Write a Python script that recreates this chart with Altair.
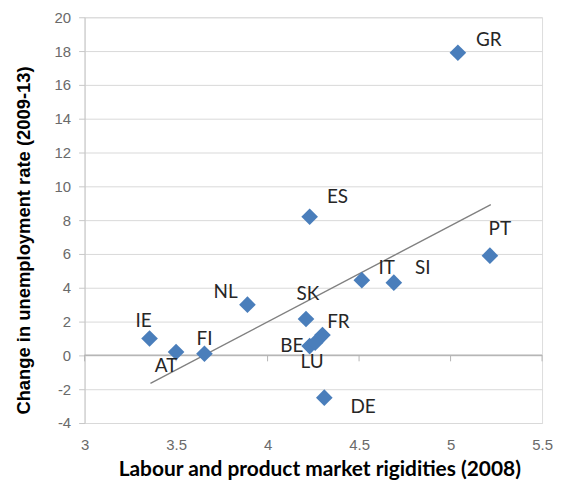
import altair as alt
import pandas as pd

# ---- data ----
countries = ["GR", "ES", "PT", "IT", "SI", "NL", "SK", "IE", "FR", "BE", "LU", "AT", "FI", "DE"]
rigidity = [5.04, 4.23, 5.215, 4.515, 4.69, 3.89, 4.21, 3.355, 4.30, 4.23, 4.26, 3.50, 3.655, 4.31]
unemp_change = [17.9, 8.2, 5.9, 4.45, 4.3, 3.0, 2.15, 1.0, 1.2, 0.55, 0.75, 0.2, 0.1, -2.5]

trend_x = [3.36, 5.22]
trend_y = [-1.66, 8.92]

x_ticks = [3, 3.5, 4, 4.5, 5, 5.5]
y_ticks = [-4, -2, 0, 2, 4, 6, 8, 10, 12, 14, 16, 18, 20]

# label offsets (pixels) – styling only
label_offsets = {
    "GR": (31, -13), "ES": (28, -20), "PT": (10, -27), "IT": (25, -12),
    "SI": (29, -15), "NL": (-22, -13), "SK": (2, -25), "IE": (-6, -18),
    "FR": (16, -13), "BE": (-18, 0), "LU": (-3, 19), "AT": (-10, 14),
    "FI": (0, -15), "DE": (39, 9),
}

pts = pd.DataFrame({"country": countries, "x": rigidity, "y": unemp_change})
trend = pd.DataFrame({"x": trend_x, "y": trend_y})
ticks = pd.DataFrame({"x": x_ticks})

xscale = alt.Scale(domain=[3, 5.5], nice=False, zero=False)
yscale = alt.Scale(domain=[-4, 20], nice=False, zero=False)

xaxis = alt.Axis(
    values=x_ticks, grid=False, domain=False, ticks=False,
    labelFont="Liberation Sans", labelFontSize=15, labelColor="#6a6a6a",
    labelPadding=15, labelFlush=False, labelOverlap=False,
    labelExpr="'' + datum.value",
    title="Labour and product market rigidities (2008)",
    titleFont="Lato", titleFontSize=21, titleFontWeight="bold", titleColor="#000000",
    titleX=236, titleY=47, titleAlign="center", titleBaseline="middle", titleAnchor=None,
)
yaxis = alt.Axis(
    values=y_ticks, grid=True, gridColor="#d9d9d9", gridWidth=1,
    domain=True, domainColor="#c8c8c8", ticks=True, tickColor="#c8c8c8", tickSize=6,
    labelFont="Liberation Sans", labelFontSize=15, labelColor="#6a6a6a",
    labelPadding=8, labelOverlap=False,
    labelExpr="'' + datum.value",
    title="Change in unemployment rate (2009-13)",
    titleFont="Liberation Sans", titleFontSize=18.5, titleFontWeight="bold", titleColor="#000000",
    titleX=-61, titleY=224, titleAlign="center", titleBaseline="middle", titleAngle=-90,
)

X = lambda: alt.X("x:Q", scale=xscale, axis=xaxis)
Y = lambda: alt.Y("y:Q", scale=yscale, axis=yaxis)

base = alt.Chart(pts)

points = base.mark_point(shape="diamond", filled=True, size=280, color="#4a7ebb", opacity=1).encode(
    x=X(), y=Y(),
)

zero_line = alt.Chart(ticks).mark_rule(color="#b5b5b5", strokeWidth=1).encode(
    x=alt.XDatum(3, scale=xscale, axis=xaxis), x2=alt.X2Datum(5.5),
    y=alt.YDatum(0, scale=yscale, axis=yaxis),
)
zero_ticks = alt.Chart(ticks).mark_rule(color="#b5b5b5", strokeWidth=1).encode(
    x=X(), y=alt.YDatum(0, scale=yscale, axis=yaxis), y2=alt.Y2Datum(-0.35)
)

trend_line = alt.Chart(trend).mark_line(color="#808080", strokeWidth=1.4).encode(
    x=X(), y=Y()
)

label_layers = []
for c in countries:
    dx, dy = label_offsets[c]
    label_layers.append(
        base.transform_filter(alt.datum.country == c).mark_text(
            font="Lato", fontSize=19, color="#262626", dx=dx, dy=dy,
            align="center", baseline="middle",
        ).encode(x=X(), y=Y(), text="country:N")
    )

chart = alt.layer(zero_line, zero_ticks, trend_line, points, *label_layers).properties(
    width=460, height=408,
    padding={"left": 77, "top": 8, "right": 11, "bottom": 59},
    autosize=alt.AutoSizeParams(type="none"),
).configure_view(stroke=None).configure(background="white")

chart.save("out.html", embed_options={"renderer": "svg", "actions": False})
